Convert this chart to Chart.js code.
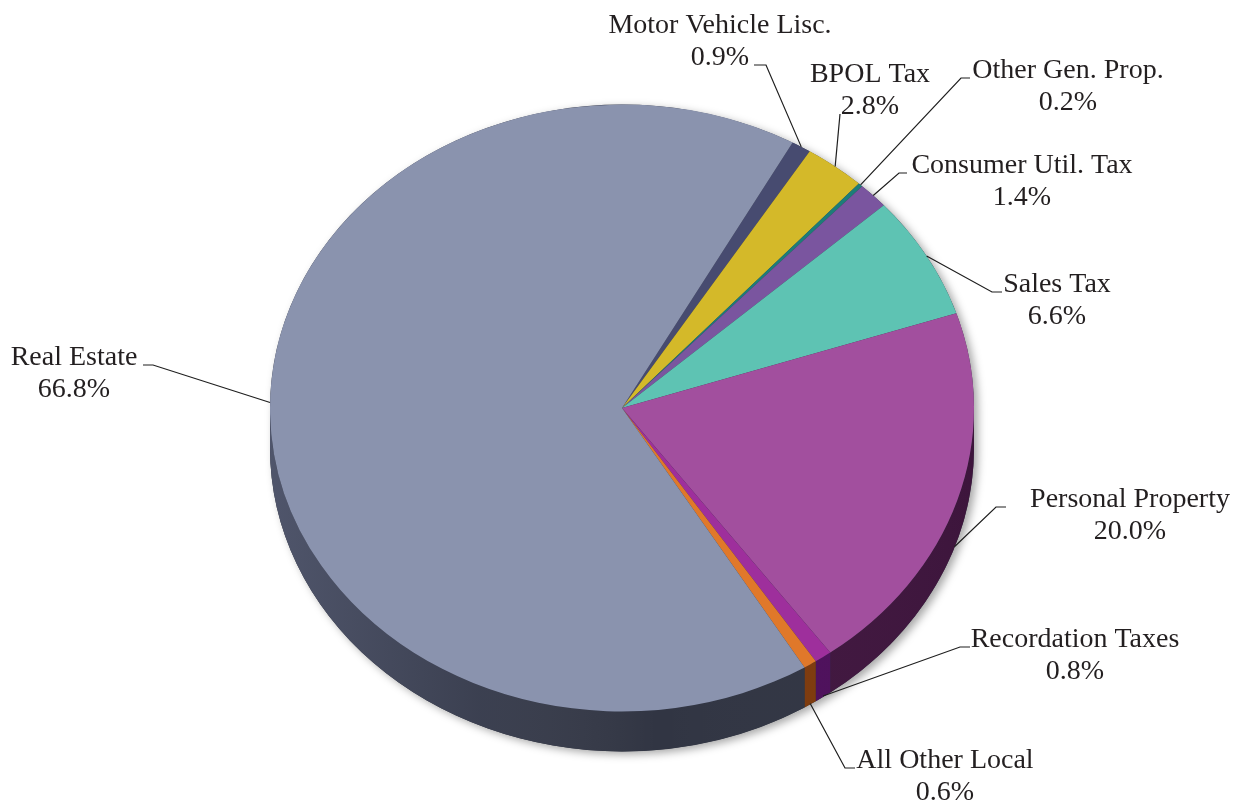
<!DOCTYPE html>
<html>
<head>
<meta charset="utf-8">
<title>Local Tax Revenue by Source</title>
<script src="https://cdn.jsdelivr.net/npm/chart.js@4.4.1/dist/chart.umd.min.js"></script>
<style>
  html, body { margin: 0; padding: 0; background: #ffffff; }
  #wrap { width: 1239px; height: 804px; position: relative; }
</style>
</head>
<body>
<div id="wrap"><canvas id="pie" width="1239" height="804"></canvas></div>
<script>
// Revenue sources, clockwise from the top
const categories = [
  'Motor Vehicle Lisc.', 'BPOL Tax', 'Other Gen. Prop.', 'Consumer Util. Tax',
  'Sales Tax', 'Personal Property', 'Recordation Taxes', 'All Other Local', 'Real Estate'
];
const shares = [0.9, 2.8, 0.2, 1.4, 6.6, 20.0, 0.8, 0.6, 66.8];
const shareLabels = ['0.9%', '2.8%', '0.2%', '1.4%', '6.6%', '20.0%', '0.8%', '0.6%', '66.8%'];

// Slice face and rim colours
const faceColors = ['#474b70', '#d4b929', '#1d7d78', '#7a559f', '#5ec3b3', '#a24f9e', '#9e2f9c', '#e0782a', '#8a93ae'];
const rimColors  = ['#2a2c44', '#7d6c16', '#0f4644', '#45305c', '#357367', '#40163f', '#4e0f5c', '#7e3a0c', '#313543'];

// Label placement: text centre x, first-line baseline, leader polyline start,
// where the leader meets the disc (face edge or rim bottom) and at what fraction of the slice
const labelLayout = [
  { x: 720,  y: 33,  lead: [[754, 65], [766, 65]],   on: 'face', at: 0.5 },
  { x: 870,  y: 82,  lead: [[840, 114]],             on: 'face', at: 0.5 },
  { x: 1068, y: 78,  lead: [[970, 78], [961, 78]],   on: 'face', at: 0.5 },
  { x: 1022, y: 173, lead: [[907, 173], [899, 173]], on: 'face', at: 0.5 },
  { x: 1057, y: 292, lead: [[1002, 292], [992, 292]], on: 'face', at: 0.5 },
  { x: 1130, y: 507, lead: [[1006, 507], [996, 507]], on: 'rim', at: 0.52 },
  { x: 1075, y: 647, lead: [[970, 647], [960, 647]], on: 'rim', at: 0.5 },
  { x: 945,  y: 768, lead: [[855, 768], [845, 768]], on: 'rim', at: 0.5 },
  { x: 74,   y: 365, lead: [[143, 365], [153, 365]], on: 'face', at: 0.509 }
];

const TILT = 0.862;   // vertical squash of the disc
const DEPTH = 40;     // rim thickness in px
const LINE_GAP = 32;

function frontSpans(s, e) {
  const spans = [];
  for (let n = -2; n <= 2; n++) {
    const a0 = Math.max(s, 2 * Math.PI * n);
    const a1 = Math.min(e, 2 * Math.PI * n + Math.PI);
    if (a1 > a0) spans.push([a0, a1]);
  }
  return spans;
}

const tiltedPie = {
  id: 'tiltedPie',
  beforeDatasetsDraw(chart) {
    const ctx = chart.ctx;
    const arcs = chart.getDatasetMeta(0).data;
    if (!arcs.length) return;
    const cx = arcs[0].x, cy = arcs[0].y, r = arcs[0].outerRadius, ry = r * TILT;

    // soft drop shadow under the disc
    ctx.save();
    ctx.beginPath();
    ctx.ellipse(cx, cy, r, ry, 0, Math.PI, 2 * Math.PI);
    ctx.ellipse(cx, cy + DEPTH, r, ry, 0, 0, Math.PI);
    ctx.closePath();
    ctx.shadowColor = 'rgba(0,0,0,0.35)';
    ctx.shadowBlur = 9;
    ctx.shadowOffsetX = 4;
    ctx.shadowOffsetY = 3;
    ctx.fillStyle = '#313543';
    ctx.fill();
    ctx.restore();

    // rim segments
    arcs.forEach((arc, i) => {
      frontSpans(arc.startAngle, arc.endAngle).forEach(([a0, a1]) => {
        ctx.save();
        ctx.beginPath();
        ctx.ellipse(cx, cy, r, ry, 0, a0, a1);
        ctx.ellipse(cx, cy + DEPTH, r, ry, 0, a1, a0, true);
        ctx.closePath();
        ctx.fillStyle = rimColors[i];
        ctx.fill();
        const g = ctx.createLinearGradient(cx - r, 0, cx + r, 0);
        g.addColorStop(0, 'rgba(150,160,200,0.30)');
        g.addColorStop(0.3, 'rgba(150,160,200,0.10)');
        g.addColorStop(0.55, 'rgba(255,255,255,0)');
        g.addColorStop(1, 'rgba(0,0,0,0.05)');
        ctx.fillStyle = g;
        ctx.fill();
        ctx.restore();
      });
    });

    // squash the face of the disc
    ctx.save();
    ctx.translate(cx, cy);
    ctx.scale(1, TILT);
    ctx.translate(-cx, -cy);
  },
  afterDatasetsDraw(chart) {
    chart.ctx.restore();
  },
  afterDraw(chart) {
    const ctx = chart.ctx;
    const arcs = chart.getDatasetMeta(0).data;
    const cx = arcs[0].x, cy = arcs[0].y, r = arcs[0].outerRadius, ry = r * TILT;
    ctx.save();
    ctx.strokeStyle = '#1e1e1e';
    ctx.lineWidth = 1.2;
    arcs.forEach((arc, i) => {
      const L = labelLayout[i];
      const a = arc.startAngle + (arc.endAngle - arc.startAngle) * L.at;
      const ex = cx + r * Math.cos(a);
      let ey = cy + ry * Math.sin(a);
      if (L.on === 'rim') ey += DEPTH - 1;
      ctx.beginPath();
      ctx.moveTo(L.lead[0][0], L.lead[0][1]);
      for (let k = 1; k < L.lead.length; k++) ctx.lineTo(L.lead[k][0], L.lead[k][1]);
      ctx.lineTo(ex, ey);
      ctx.stroke();
    });
    ctx.fillStyle = '#231f20';
    ctx.font = '28px "Liberation Serif", "Times New Roman", serif';
    ctx.textAlign = 'center';
    ctx.textBaseline = 'alphabetic';
    arcs.forEach((arc, i) => {
      const L = labelLayout[i];
      ctx.fillText(categories[i], L.x, L.y);
      ctx.fillText(shareLabels[i], L.x, L.y + LINE_GAP);
    });
    ctx.restore();
  }
};

new Chart(document.getElementById('pie'), {
  type: 'pie',
  data: {
    labels: categories,
    datasets: [{
      data: shares,
      backgroundColor: faceColors,
      borderWidth: 0,
      clip: false
    }]
  },
  options: {
    responsive: false,
    animation: false,
    rotation: 29,
    layout: { padding: { left: 270, right: 265, top: 56, bottom: 44 } },
    plugins: { legend: { display: false }, tooltip: { enabled: false } },
    events: []
  },
  plugins: [tiltedPie]
});
</script>
</body>
</html>
